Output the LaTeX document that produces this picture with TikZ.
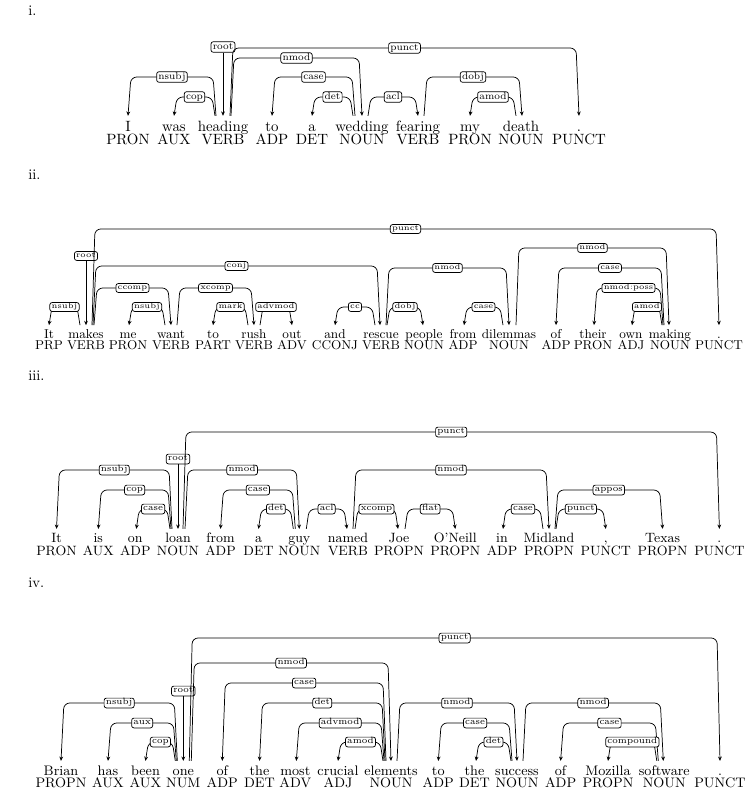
\documentclass[tikz,border=0pt]{standalone}
\usetikzlibrary{arrows.meta,calc}

\begin{document}
\begin{tikzpicture}[
  x=0.685pt, y=-0.685pt,
  arc/.style={draw, line width=0.5pt, rounded corners=4pt, -{Stealth[length=3pt,width=2.6pt]}},
  lab/.style={draw, fill=white, line width=0.5pt, rounded corners=1.5pt, inner xsep=1.2pt, inner ysep=0.8pt,
    text height=#1*0.62pt, text depth=#1*0.2pt, font=\fontsize{#1}{#1}\selectfont},
  wd/.style={anchor=base, inner sep=0pt, text height=#1pt, font=\fontsize{#1}{#1}\selectfont},
  tg/.style={anchor=base, inner sep=0pt, font=\fontsize{#1}{#1}\selectfont},
  num/.style={anchor=base west, inner sep=0pt, font=\fontsize{10}{12}\selectfont},
]

  \useasboundingbox (0,0) rectangle (755,799);

  % --- i. ---
  \node[num] (ni) at (28,15.7) {i.};
  \foreach \k/\x/\w/\t in {1/128/I/PRON, 2/174/was/AUX, 3/223/heading/VERB, 4/272/to/ADP,
      5/312/a/DET, 6/362/wedding/NOUN, 7/418/fearing/VERB, 8/470/my/PRON, 9/521/death/NOUN, 10/579/./PUNCT} {
    \node[wd=10.2] (i\k) at (\x,131) {\w};
    \node[tg=10.2] (i\k-t) at (\x,144) {\t};
  }
  \node[lab=6.8] (iroot) at (223,47) {root};
  \draw[arc] (iroot) -- (i3.north);
  \foreach \hw/\dw/\ho/\dx/\lv/\lb in {i3/i1/-7/0/77/nsubj, i3/i2/-8/0/97/cop, i3/i6/8/0/58/nmod,
      i3/i10/7/0/48/punct, i6/i4/-7/0/77/case, i6/i5/-9/0/97/det, i6/i7/6/0/97/acl,
      i7/i9/6/1/77/dobj, i9/i8/-5/0/97/amod}
    \draw[arc] let \p1=($(\hw.north)+(\ho,0)$), \p2=($(\dw.north)+(\dx,0)$), \p3=(0,\lv),
        \n1={ifthenelse(\x2>\x1,2,-2)} in
      (\p1) -- (\x1+\n1,\y3) -- node[lab=6.8] {\lb} (\x2-\n1,\y3) -- (\p2);

  % --- ii. ---
  \node[num] (nii) at (28,179) {ii.};
  \foreach \k/\x/\w/\t in {1/49/It/PRP, 2/86/makes/VERB, 3/128/me/PRON, 4/171/want/VERB, 5/213/to/PART,
      6/254/rush/VERB, 7/292/out/ADV, 8/335/and/CCONJ, 9/381/rescue/VERB, 10/424/people/NOUN,
      11/463/from/ADP, 12/509/dilemmas/NOUN, 13/556/of/ADP, 14/593/their/PRON, 15/631/own/ADJ,
      16/670/making/NOUN, 17/719/./PUNCT} {
    \node[wd=8.8] (ii\k) at (\x,338.3) {\w};
    \node[tg=8.8] (ii\k-t) at (\x,349.3) {\t};
  }
  \node[lab=5.4] (iiroot) at (86,256) {root};
  \draw[arc] (iiroot) -- (ii2.north);
  \foreach \hw/\dw/\ho/\dx/\lv/\lb in {ii2/ii1/-6/0/307/nsubj, ii2/ii17/6/0/229/punct, ii2/ii9/7/-1/266/conj,
      ii2/ii4/8/0/288/ccomp, ii4/ii3/-6/1/307/nsubj, ii4/ii6/6/0/288/xcomp, ii6/ii5/-6/0/307/mark,
      ii6/ii7/6/0/307/advmod, ii9/ii8/-6/0/307/cc, ii9/ii10/6/-1/307/dobj, ii9/ii12/5/0/268/nmod,
      ii12/ii11/-6/1/307/case, ii12/ii16/7/-1/248/nmod, ii16/ii13/-6/0/268/case,
      ii16/ii14/-7/1/288/nmod:poss, ii16/ii15/-8/1/307/amod}
    \draw[arc] let \p1=($(\hw.north)+(\ho,0)$), \p2=($(\dw.north)+(\dx,0)$), \p3=(0,\lv),
        \n1={ifthenelse(\x2>\x1,2,-2)} in
      (\p1) -- (\x1+\n1,\y3) -- node[lab=5.4] {\lb} (\x2-\n1,\y3) -- (\p2);

  % --- iii. ---
  \node[num] (niii) at (28,380.7) {iii.};
  \foreach \k/\x/\w/\t in {1/56.5/It/PRON, 2/98.3/is/AUX, 3/135.3/on/ADP, 4/178/loan/NOUN, 5/220.5/from/ADP,
      6/258.5/a/DET, 7/299.3/guy/NOUN, 8/348/named/VERB, 9/399/Joe/PROPN, 10/455.3/O'Neill/PROPN,
      11/502/in/ADP, 12/549/Midland/PROPN, 13/605.8/{,}/PUNCT, 14/662.6/Texas/PROPN, 15/719.4/./PUNCT} {
    \node[wd=9.25] (iii\k) at (\x,542.7) {\w};
    \node[tg=9.25] (iii\k-t) at (\x,555.3) {\t};
  }
  \node[lab=6.2] (iiiroot) at (178,459) {root};
  \draw[arc] (iiiroot) -- (iii4.north);
  \foreach \hw/\dw/\ho/\dx/\lv/\lb in {iii4/iii1/-6/0/470/nsubj, iii4/iii2/-7/0/490/cop, iii4/iii3/-8/1/509/case,
      iii4/iii15/5/0/432/punct, iii4/iii7/7/0/470/nmod, iii7/iii5/-4/0/490/case, iii7/iii6/-6/0/509/det,
      iii7/iii8/7/-1/509/acl, iii8/iii12/5/0/470/nmod, iii8/iii9/7/-1/509/xcomp, iii9/iii10/6/0/509/flat,
      iii12/iii11/-6/1/509/case, iii12/iii14/6/0/490/appos, iii12/iii13/7/0/509/punct}
    \draw[arc] let \p1=($(\hw.north)+(\ho,0)$), \p2=($(\dw.north)+(\dx,0)$), \p3=(0,\lv),
        \n1={ifthenelse(\x2>\x1,2,-2)} in
      (\p1) -- (\x1+\n1,\y3) -- node[lab=6.2] {\lb} (\x2-\n1,\y3) -- (\p2);

  % --- iv. ---
  \node[num] (niv) at (28,587.3) {iv.};
  \foreach \k/\x/\w/\t in {1/61/Brian/PROPN, 2/108/has/AUX, 3/145.5/been/AUX, 4/183.3/one/NUM, 5/222.3/of/ADP,
      6/259.5/the/DET, 7/295.3/most/ADV, 8/338/crucial/ADJ, 9/391/elements/NOUN, 10/438.3/to/ADP,
      11/474.5/the/DET, 12/517/success/NOUN, 13/560.6/of/ADP, 14/608/Mozilla/PROPN,
      15/664.3/software/NOUN, 16/720/./PUNCT} {
    \node[wd=9.45] (iv\k) at (\x,775) {\w};
    \node[tg=9.45] (iv\k-t) at (\x,787.3) {\t};
  }
  \node[lab=6.2] (ivroot) at (183.3,691) {root};
  \draw[arc] (ivroot) -- (iv4.north);
  \foreach \hw/\dw/\ho/\dx/\lv/\lb in {iv4/iv1/-6/0/703/nsubj, iv4/iv2/-7/0/723/aux, iv4/iv3/-8/0/742/cop,
      iv4/iv16/6/0/638/punct, iv4/iv9/8/0/663/nmod, iv9/iv5/-5/0/683/case, iv9/iv6/-6/0/703/det,
      iv9/iv7/-7/1/723/advmod, iv9/iv8/-8/0/742/amod, iv9/iv12/6/0/703/nmod, iv12/iv10/-5/0/723/case,
      iv12/iv11/-6/1.5/742/det, iv12/iv15/6/-1/703/nmod, iv15/iv13/-6/0/723/case,
      iv15/iv14/-7.5/0/742/compound}
    \draw[arc] let \p1=($(\hw.north)+(\ho,0)$), \p2=($(\dw.north)+(\dx,0)$), \p3=(0,\lv),
        \n1={ifthenelse(\x2>\x1,2,-2)} in
      (\p1) -- (\x1+\n1,\y3) -- node[lab=6.2] {\lb} (\x2-\n1,\y3) -- (\p2);

\end{tikzpicture}
\end{document}
